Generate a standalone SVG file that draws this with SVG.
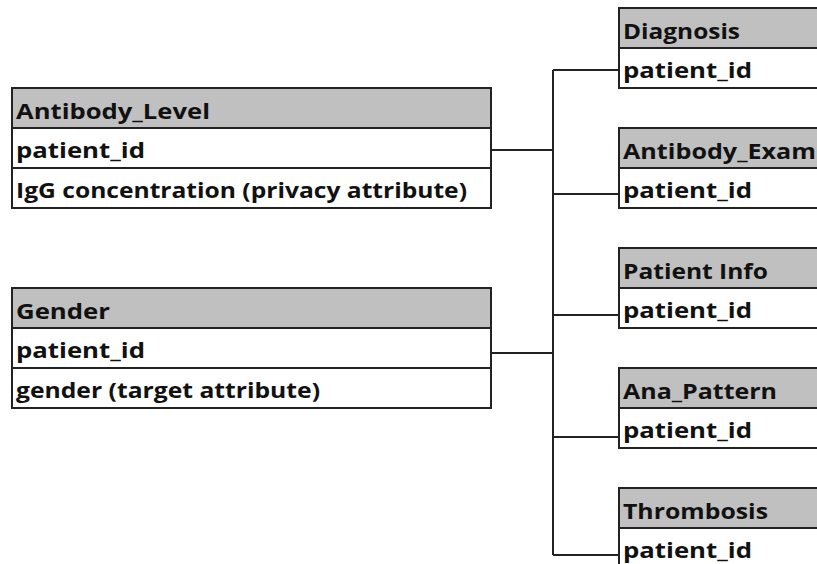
<svg xmlns="http://www.w3.org/2000/svg" width="817" height="564" viewBox="0 0 817 564">
  <style>
    .hdr { fill: #c0c0c0; stroke: #222; stroke-width: 2; }
    .row { fill: #ffffff; stroke: #222; stroke-width: 2; }
    .t { font-family: "Open Sans", "Liberation Sans", sans-serif; font-weight: bold; font-size: 22px; fill: #111; }
    .link { fill: none; stroke: #222; stroke-width: 2; }
  </style>
  <rect x="0" y="0" width="817" height="564" fill="#ffffff"/>

  <!-- connectors -->
  <g id="connectors">
    <path class="link" d="M553 70 V555"/>
    <path class="link" d="M553 70 H619"/>
    <path class="link" d="M553 194 H619"/>
    <path class="link" d="M553 315 H619"/>
    <path class="link" d="M553 437 H619"/>
    <path class="link" d="M553 555 H619"/>
    <path class="link" d="M491 150 H553"/>
    <path class="link" d="M491 353 H553"/>
  </g>

  <!-- left tables -->
  <g id="antibody_level">
    <rect class="hdr" x="12" y="88" width="479" height="40"/>
    <rect class="row" x="12" y="128" width="479" height="40"/>
    <rect class="row" x="12" y="168" width="479" height="40"/>
    <text class="t" x="16" y="119" textLength="194" lengthAdjust="spacingAndGlyphs">Antibody_Level</text>
    <text class="t" x="16" y="158" textLength="129" lengthAdjust="spacingAndGlyphs">patient_id</text>
    <text class="t" x="16" y="198" textLength="451" lengthAdjust="spacingAndGlyphs">IgG concentration (privacy attribute)</text>
  </g>

  <g id="gender">
    <rect class="hdr" x="12" y="288" width="479" height="40"/>
    <rect class="row" x="12" y="328" width="479" height="40"/>
    <rect class="row" x="12" y="368" width="479" height="40"/>
    <text class="t" x="16" y="319" textLength="94" lengthAdjust="spacingAndGlyphs">Gender</text>
    <text class="t" x="16" y="358" textLength="129" lengthAdjust="spacingAndGlyphs">patient_id</text>
    <text class="t" x="16" y="398" textLength="304" lengthAdjust="spacingAndGlyphs">gender (target attribute)</text>
  </g>

  <!-- right tables -->
  <g id="diagnosis">
    <rect class="hdr" x="619" y="8" width="220" height="40"/>
    <rect class="row" x="619" y="48" width="220" height="40"/>
    <text class="t" x="623" y="39" textLength="117" lengthAdjust="spacingAndGlyphs">Diagnosis</text>
    <text class="t" x="623" y="78" textLength="129" lengthAdjust="spacingAndGlyphs">patient_id</text>
  </g>

  <g id="antibody_exam">
    <rect class="hdr" x="619" y="128" width="220" height="40"/>
    <rect class="row" x="619" y="168" width="220" height="40"/>
    <text class="t" x="623" y="159" textLength="193" lengthAdjust="spacingAndGlyphs">Antibody_Exam</text>
    <text class="t" x="623" y="198" textLength="129" lengthAdjust="spacingAndGlyphs">patient_id</text>
  </g>

  <g id="patient_info">
    <rect class="hdr" x="619" y="248" width="220" height="40"/>
    <rect class="row" x="619" y="288" width="220" height="40"/>
    <text class="t" x="623" y="279" textLength="145" lengthAdjust="spacingAndGlyphs">Patient Info</text>
    <text class="t" x="623" y="318" textLength="129" lengthAdjust="spacingAndGlyphs">patient_id</text>
  </g>

  <g id="ana_pattern">
    <rect class="hdr" x="619" y="368" width="220" height="40"/>
    <rect class="row" x="619" y="408" width="220" height="40"/>
    <text class="t" x="623" y="399" textLength="154" lengthAdjust="spacingAndGlyphs">Ana_Pattern</text>
    <text class="t" x="623" y="438" textLength="129" lengthAdjust="spacingAndGlyphs">patient_id</text>
  </g>

  <g id="thrombosis">
    <rect class="hdr" x="619" y="488" width="220" height="40"/>
    <rect class="row" x="619" y="528" width="220" height="40"/>
    <text class="t" x="623" y="519" textLength="145" lengthAdjust="spacingAndGlyphs">Thrombosis</text>
    <text class="t" x="623" y="558" textLength="129" lengthAdjust="spacingAndGlyphs">patient_id</text>
  </g>
</svg>
